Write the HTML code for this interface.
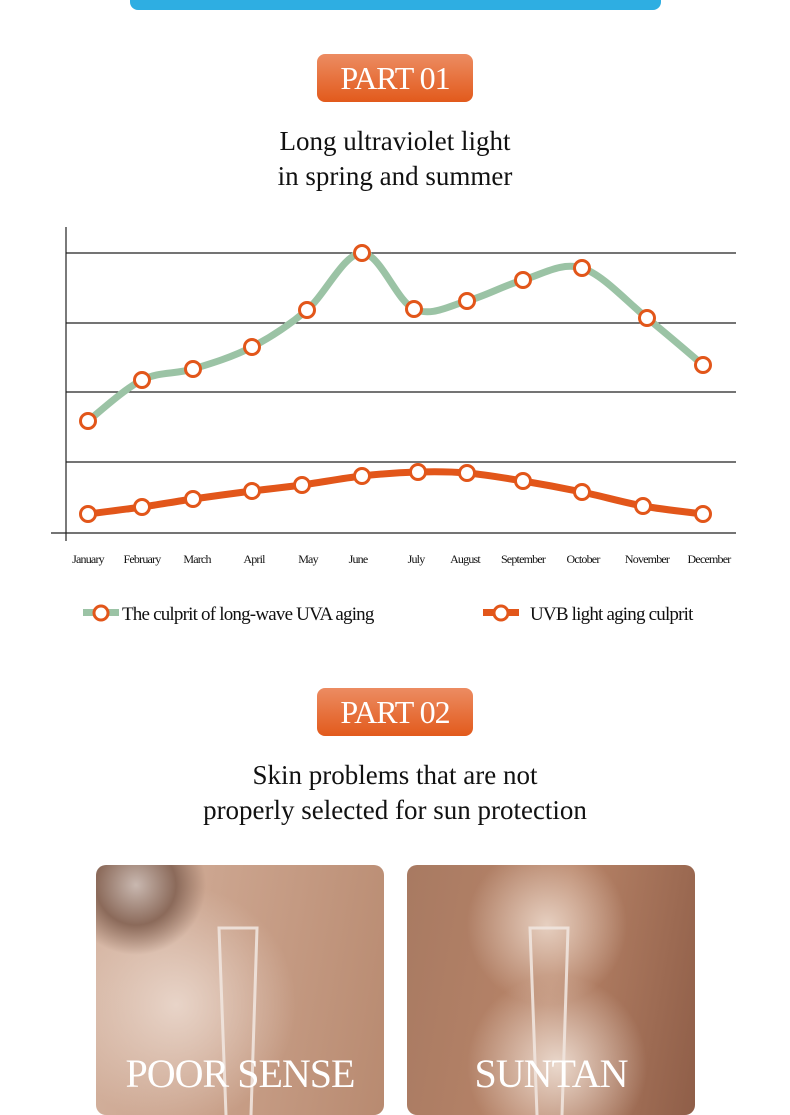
<!DOCTYPE html>
<html><head><meta charset="utf-8"><style>
body{margin:0;width:790px;height:1100px;background:#fff;position:relative;overflow:hidden;font-family:"Liberation Serif",serif}
.top{position:absolute;left:130px;top:-20px;width:531px;height:30px;background:#2eaee2;border-radius:8px}
.badge{position:absolute;left:317px;width:156px;height:48px;border-radius:8px;background:linear-gradient(#ec8c62,#e25a1c);color:#fff;font-size:32px;text-align:center;line-height:48px;letter-spacing:-1px}
.title{position:absolute;left:0;width:790px;text-align:center;font-size:27px;line-height:35px;color:#111}
.card{position:absolute;top:865px;width:288px;height:250px;border-radius:10px;overflow:hidden}
.card .lbl{position:absolute;left:0;width:100%;top:185px;text-align:center;color:#fff;font-size:40px;letter-spacing:-1px}
</style></head><body>
<div class="top"></div>
<div class="badge" style="top:54px">PART 01</div>
<div class="title" style="top:124px">Long ultraviolet light<br>in spring and summer</div>
<svg width="790" height="640" style="position:absolute;left:0;top:0">
<g stroke="#222" stroke-width="1.2">
<line x1="66" y1="227" x2="66" y2="541"/>
<line x1="66" y1="253" x2="736" y2="253"/>
<line x1="66" y1="323" x2="736" y2="323"/>
<line x1="66" y1="392" x2="736" y2="392"/>
<line x1="66" y1="462" x2="736" y2="462"/>
<line x1="51" y1="533" x2="736" y2="533"/>
</g>
<g font-size="12" fill="#111" text-anchor="middle" letter-spacing="-0.8">
<text x="88" y="563">January</text><text x="142" y="563">February</text><text x="197" y="563">March</text><text x="254" y="563">April</text><text x="308" y="563">May</text><text x="358" y="563">June</text><text x="416" y="563">July</text><text x="465" y="563">August</text><text x="523" y="563">September</text><text x="583" y="563">October</text><text x="647" y="563">November</text><text x="709" y="563">December</text>
</g>
<path id="pa" fill="none" stroke="#9bc3a5" stroke-width="7"/>
<path id="pb" fill="none" stroke="#e2561a" stroke-width="7"/>
<g id="dots" fill="#fff" stroke="#e2561a" stroke-width="3"></g>
<rect x="83" y="609" width="36" height="7" fill="#9bc3a5"/>
<circle cx="101" cy="613" r="7" fill="#fff" stroke="#e2561a" stroke-width="3"/>
<text x="122" y="620" font-size="19" fill="#111" letter-spacing="-0.8">The culprit of long-wave UVA aging</text>
<rect x="483" y="609" width="36" height="7" fill="#e2561a"/>
<circle cx="501" cy="613" r="7" fill="#fff" stroke="#e2561a" stroke-width="3"/>
<text x="530" y="620" font-size="19" fill="#111" letter-spacing="-0.8">UVB light aging culprit</text>
</svg>
<div class="badge" style="top:688px">PART 02</div>
<div class="title" style="top:758px">Skin problems that are not<br>properly selected for sun protection</div>
<div class="card" style="left:96px;background:radial-gradient(circle at 40px 20px,#c9b8b0 0,#8b6a5a 40px,transparent 70px),radial-gradient(circle at 80px 140px,#e8d4c8,transparent 120px),linear-gradient(100deg,#d4b3a0,#c89f88 50%,#b88a70)">
<svg width="288" height="250" style="position:absolute;left:0;top:0"><polyline points="130,250 123,63 161,63 155,250" fill="none" stroke="rgba(240,228,222,.9)" stroke-width="3"/></svg>
<div class="lbl">POOR SENSE</div></div>
<div class="card" style="left:407px;background:radial-gradient(circle at 140px 60px,#e6cfc0,transparent 80px),radial-gradient(circle at 150px 200px,#ead8cc,transparent 90px),linear-gradient(100deg,#a87a62,#b88468 50%,#8f5e48)">
<svg width="288" height="250" style="position:absolute;left:0;top:0"><polyline points="130,250 123,63 161,63 155,250" fill="none" stroke="rgba(240,228,222,.9)" stroke-width="3"/></svg>
<div class="lbl">SUNTAN</div></div>
<script>
var A=[[88,421],[142,380],[193,369],[252,347],[307,310],[362,253],[414,309],[467,301],[523,280],[582,268],[647,318],[703,365]];
var B=[[88,514],[142,507],[193,499],[252,491],[302,485],[362,476],[418,472],[467,473],[523,481],[582,492],[643,506],[703,514]];
function path(P){var d="M"+P[0];for(var i=0;i<P.length-1;i++){var p0=P[i-1]||P[i],p1=P[i],p2=P[i+1],p3=P[i+2]||p2;
var c1=[p1[0]+(p2[0]-p0[0])/6,p1[1]+(p2[1]-p0[1])/6],c2=[p2[0]-(p3[0]-p1[0])/6,p2[1]-(p3[1]-p1[1])/6];
d+=" C"+c1+" "+c2+" "+p2;}return d;}
document.getElementById("pa").setAttribute("d",path(A));
document.getElementById("pb").setAttribute("d",path(B));
var g=document.getElementById("dots"),s="";
A.concat(B).forEach(function(p){s+='<circle cx="'+p[0]+'" cy="'+p[1]+'" r="7.5"/>';});
g.innerHTML=s;
</script>
</body></html>
